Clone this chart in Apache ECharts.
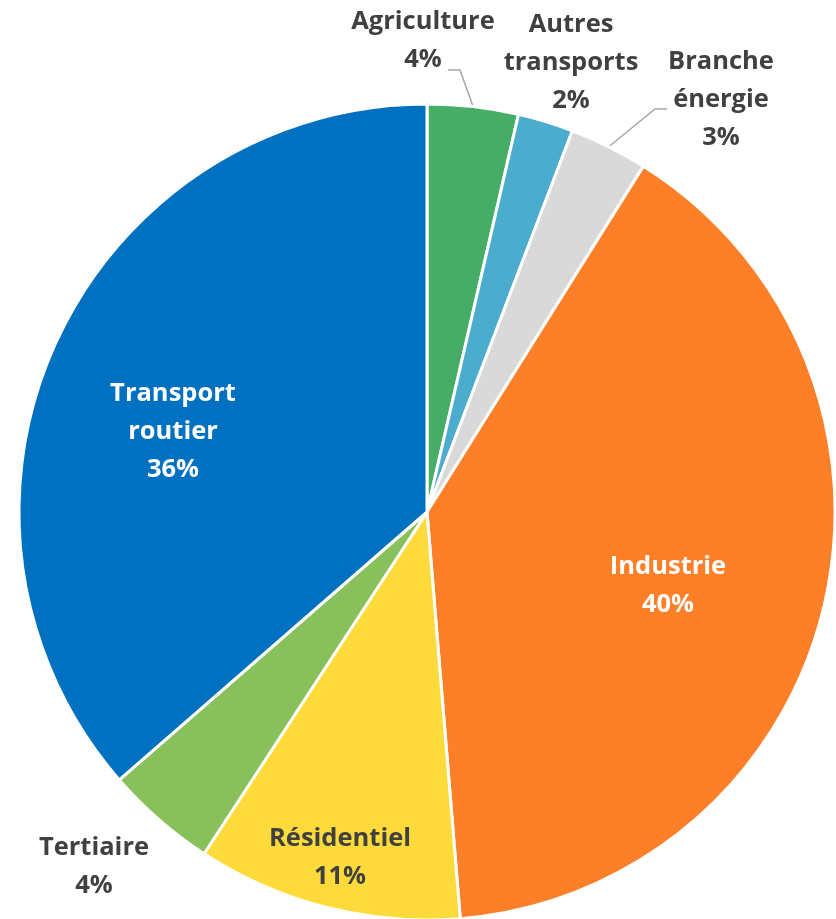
<!DOCTYPE html>
<html><head><meta charset="utf-8">
<script src="https://cdn.jsdelivr.net/npm/echarts@6/dist/echarts.min.js"></script>
<style>html,body{margin:0;padding:0;background:#fff}#c{width:836px;height:919px}</style>
</head><body><div id="c"></div>
<script>
const categories = ['Agriculture', 'Autres\ntransports', 'Branche\nénergie', 'Industrie', 'Résidentiel', 'Tertiaire', 'Transport\nroutier'];
const values = [3.6, 2.2, 3.1, 39.8, 10.5, 4.4, 36.4];
const colors = ['#46AD66', '#4BACCD', '#D9D9D9', '#FD7F28', '#FEDA3A', '#88C15C', '#0070C0'];
const labelColors = ['#404040', '#404040', '#404040', '#ffffff', '#404040', '#404040', '#ffffff'];
const showLines = [true, false, true, false, false, false, false];
const labelInside = [false, false, false, true, true, false, true];
const labelPos = [[423, 41], [571, 63], [721, 100], [668, 586], [340, 858], [94, 867], [173, 432]];
// label-line elbow and end, as offsets from the label centre
const lineOffsets = [[[37, 29], [25, 29]], null, [[-66, 9], [-54, 9]], null, null, null, null];

const chart = echarts.init(document.getElementById('c'));
chart.setOption({
  animation: false,
  series: [{
    type: 'pie',
    center: [427, 512],
    radius: 408,
    startAngle: 90,
    clockwise: true,
    data: categories.map((n, i) => ({
      name: n, value: values[i],
      itemStyle: { color: colors[i] },
      label: { color: labelColors[i], position: labelInside[i] ? 'inside' : 'outside' },
      labelLine: { show: showLines[i] }
    })),
    itemStyle: { borderColor: '#ffffff', borderWidth: 3 },
    label: {
      show: true,
      fontFamily: 'Open Sans',
      fontWeight: 'bold',
      fontSize: 25.5,
      lineHeight: 38,
      align: 'center',
      overflow: 'none',
      formatter: p => p.name + '\n' + Math.round(p.percent) + '%'
    },
    labelLine: { lineStyle: { color: '#A6A6A6', width: 1.5 }, length: 10, length2: 10 },
    labelLayout: function (p) {
      const i = p.dataIndex;
      const pos = labelPos[i];
      const out = { x: pos[0], y: pos[1], align: 'center', verticalAlign: 'middle' };
      const off = lineOffsets[i];
      if (off && p.labelLinePoints) {
        out.labelLinePoints = [
          p.labelLinePoints[0],
          [pos[0] + off[0][0], pos[1] + off[0][1]],
          [pos[0] + off[1][0], pos[1] + off[1][1]]
        ];
      }
      return out;
    }
  }]
});
</script></body></html>
